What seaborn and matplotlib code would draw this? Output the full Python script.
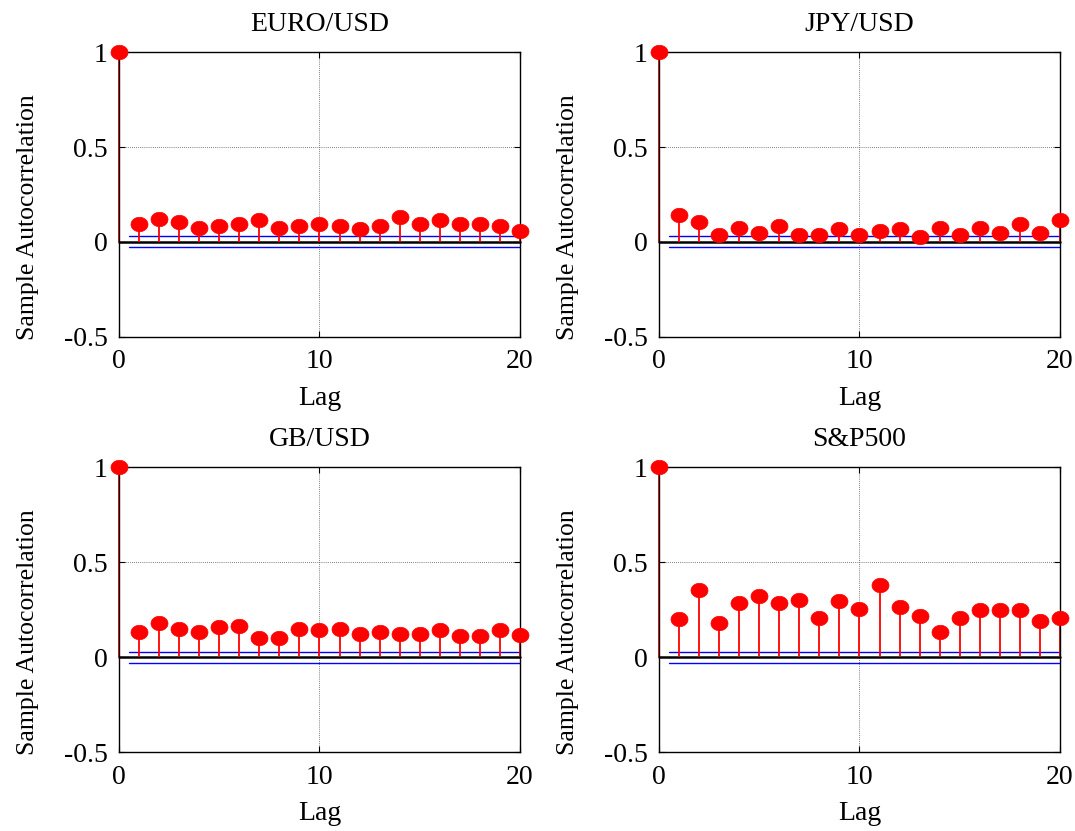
import numpy as np
import pandas as pd
import matplotlib
matplotlib.use("Agg")
import matplotlib.pyplot as plt
from matplotlib.path import Path
import seaborn as sns

lags = list(range(0, 21))

euro_usd = [1.0, 0.096, 0.123, 0.104, 0.075, 0.084, 0.096, 0.114, 0.075, 0.082, 0.093,
            0.084, 0.067, 0.084, 0.132, 0.096, 0.114, 0.096, 0.093, 0.084, 0.058]
jpy_usd = [1.0, 0.142, 0.105, 0.037, 0.075, 0.049, 0.084, 0.037, 0.037, 0.067, 0.037,
           0.058, 0.067, 0.026, 0.075, 0.037, 0.075, 0.049, 0.096, 0.049, 0.114]
gb_usd = [1.0, 0.132, 0.179, 0.149, 0.132, 0.158, 0.161, 0.102, 0.102, 0.149, 0.140,
          0.149, 0.119, 0.132, 0.119, 0.119, 0.140, 0.109, 0.109, 0.140, 0.114]
sp500 = [1.0, 0.198, 0.351, 0.179, 0.284, 0.319, 0.284, 0.302, 0.207, 0.293, 0.255,
         0.377, 0.263, 0.216, 0.132, 0.207, 0.246, 0.246, 0.246, 0.189, 0.207]

titles = ["EURO/USD", "JPY/USD", "GB/USD", "S&P500"]
series = [euro_usd, jpy_usd, gb_usd, sp500]
conf_bound = 0.029

y_ticks = [-0.5, 0, 0.5, 1]
y_tick_labels = ["-0.5", "0", "0.5", "1"]
x_ticks = [0, 10, 20]

sns.set_style("ticks")
plt.rcParams["font.family"] = ["Liberation Serif", "DejaVu Serif"]
for key in ["text.color", "axes.labelcolor", "xtick.color", "ytick.color"]:
    plt.rcParams[key] = "black"

fig = plt.figure(figsize=(10.75, 8.31), dpi=100)

# axes boxes in figure fractions: [left, bottom, width, height]
boxes = [
    [0.1107, 0.5945, 0.3730, 0.3429],
    [0.6130, 0.5945, 0.3730, 0.3429],
    [0.1107, 0.0950, 0.3730, 0.3429],
    [0.6130, 0.0950, 0.3730, 0.3429],
]

# slightly wide elliptical marker
t = np.linspace(0, 2 * np.pi, 60)
ellipse = Path(np.column_stack([1.18 * np.cos(t), np.sin(t)]), closed=True)

for box, title, vals in zip(boxes, titles, series):
    ax = fig.add_axes(box)
    df = pd.DataFrame({"Lag": lags, "ACF": vals})

    ax.set_xlim(0, 20)
    ax.set_ylim(-0.5, 1)

    # dotted grid
    ax.axhline(0.5, color="#555555", lw=0.6, ls=(0, (1, 1.5)), zorder=0.5)
    ax.axvline(10, color="#555555", lw=0.6, ls=(0, (1, 1.5)), zorder=0.5)

    # stems
    ax.vlines(df["Lag"], 0, df["ACF"], color="red", lw=1.3, zorder=2, clip_on=False)
    # zero line
    ax.plot([0, 20], [0, 0], color="black", lw=1.8, zorder=1.5, clip_on=False)
    # confidence bounds
    ax.plot([0.5, 20], [conf_bound, conf_bound], color="blue", lw=1.0, zorder=1.6)
    ax.plot([0.5, 20], [-conf_bound, -conf_bound], color="blue", lw=1.0, zorder=1.6)

    sns.scatterplot(data=df, x="Lag", y="ACF", ax=ax, marker=ellipse, s=150,
                    color="red", edgecolor="red", linewidth=0.5, zorder=3,
                    clip_on=False, legend=False)

    ax.set_xticks(x_ticks)
    ax.set_yticks(y_ticks)
    ax.set_yticklabels(y_tick_labels)
    ax.tick_params(direction="in", length=4, width=0.8, labelsize=20,
                   top=True, right=True, colors="black")
    ax.tick_params(axis="y", pad=8)
    ax.tick_params(axis="x", pad=9)
    for sp in ax.spines.values():
        sp.set_linewidth(1.0)
        sp.set_color("black")

    ax.set_title(title, fontsize=20, pad=15)
    ax.set_xlabel("Lag", fontsize=20, labelpad=8)
    ax.set_ylabel("Sample Autocorrelation", fontsize=18.5)
    ax.yaxis.set_label_coords(-0.2, 0.42)

fig.savefig("out.png", dpi=100, facecolor="white")
